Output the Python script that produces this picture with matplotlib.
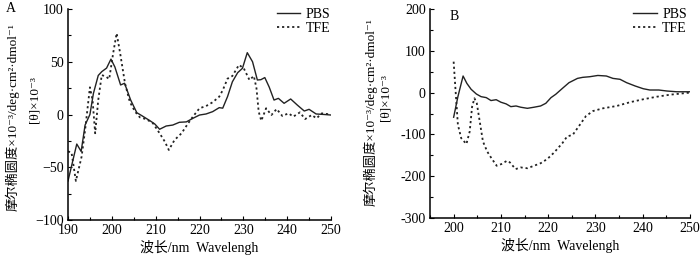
import matplotlib
matplotlib.use("Agg")
import matplotlib.pyplot as plt
from matplotlib.ticker import MultipleLocator, FuncFormatter

plt.rcParams['font.family'] = ['Liberation Serif', 'DejaVu Serif', 'Noto Sans CJK SC']

# ---- Panel A data ----
a_pbs_x = [190, 192.0, 193.0, 193.9, 195.0, 195.8, 196.9, 197.7, 198.8, 199.8, 200.7, 202.0, 202.9,
           204.3, 205.7, 206.8, 208.7, 209.8, 210.9, 212.4, 213.9, 215.4, 217.0, 218.5, 220.0,
           221.5, 223.0, 224.5, 225.3, 226.4, 227.5, 228.7, 229.8, 230.9, 232.1, 233.2, 234.0,
           234.9, 235.9, 237.0, 238.0, 239.3, 240.8, 242.3, 243.9, 245.0, 246.6, 248.5, 250]
a_pbs_y = [-63, -28, -35, -10, 0, 20, 37, 40.6, 44, 52.5, 45, 28, 29.6,
           13.7, 1.7, -1, -5.9, -9, -14, -10.9, -10, -7.4, -7, -3.6, -0.5,
           0.5, 2.7, 6.5, 6, 17, 31, 39.6, 43.8, 58.6, 50, 32.7, 33,
           35, 26, 13.7, 15.3, 10.6, 14.7, 9, 3.3, 4.9, 0.5, 0, -0.5]

a_tfe_x = [190, 190.8, 191.8, 193.1, 193.9, 195.0, 195.6, 196.2, 196.9, 197.7, 198.7, 199.4,
           200.3, 201.1, 201.9, 203.0, 204.1, 205.3, 206.4, 207.9, 209.4, 210.9, 212.1, 213.0,
           214.3, 215.9, 217.4, 218.5, 220.0, 221.5, 223.0, 224.5, 225.3, 226.4, 227.5, 229.0,
           230.1, 231.4, 232.4, 233.0, 233.5, 234.1, 235.2, 236.4, 237.6, 238.9, 240.3, 241.4,
           242.9, 244.1, 245.6, 246.7, 247.9, 250]
a_tfe_y = [-35, -36, -63, -40, -14.7, 25.8, 13.7, -17.8, 13.7, 37.4, 35.8, 33.6,
           58, 77, 58, 29.6, 12, 2.7, -2.7, -4.5, -8.4, -17.8, -25.8, -33.6,
           -24.2, -17.8, -8.4, -2, 5.9, 8, 11.6, 16.9, 23, 34, 36.5, 47,
           43.8, 32.7, 36.5, 24.8, 2.7, -5.9, 5.9, -0.5, 5.2, -1.4, 1.1, -2,
           2, -4.3, -0.5, -3.6, 1.1, 0]

# ---- Panel B data ----
b_pbs_x = [200, 200.9, 202.0, 202.8, 203.7, 204.8, 205.8, 206.9, 207.9, 209.0, 210.0, 211.1,
           212.1, 213.2, 214.2, 215.6, 217.0, 218.4, 219.5, 220.6, 221.6, 223.0, 224.4, 226.2,
           227.3, 228.8, 230.5, 232.3, 233.7, 235.2, 236.6, 238.4, 240.1, 241.5, 243.4, 245.1,
           247.2, 250]
b_pbs_y = [-59, -9.8, 39.7, 22, 7.9, -3.3, -9.7, -12, -19, -17, -23, -27,
           -33.6, -32, -35, -37.6, -35, -32, -25.6, -12, -4, 10, 23.7, 34,
           36.5, 38, 41, 39.7, 34, 31.8, 23.7, 15.8, 9.3, 6.2, 6.2, 3.8,
           2, 2]

b_tfe_x = [200, 200.4, 200.9, 201.6, 202.7, 203.4, 203.9, 204.4, 204.9, 205.7, 206.2, 207.1,
           208.0, 209.1, 210.1, 211.3, 211.9, 213.1, 214.2, 215.6, 217.0, 218.4, 219.8, 221.2,
           223.0, 224.0, 225.2, 226.7, 228.0, 229.5, 231.6, 234.5, 237.3, 240.1, 243.0, 245.8,
           248.6, 250]
b_tfe_y = [74, 6, -77, -109, -123, -93, -34, -13.6, -25.6, -81.6, -117, -141,
           -157, -175, -171, -163, -167, -183, -179, -181, -175, -169, -159, -144,
           -121, -105, -101, -77, -56, -44, -37.6, -32, -23, -16, -9.8, -5,
           -1.7, 0]

labels = ["PBS", "TFE"]
ylab1 = "摩尔椭圆度×10⁻³/deg·cm²·dmol⁻¹"
ylab2 = "[θ]×10⁻³"
xlab = "波长/nm  Wavelengh"

fig = plt.figure(figsize=(7.0, 2.57), dpi=100)
axA = fig.add_axes([68/700, 1-220/257, 263/700, 211/257])
axB = fig.add_axes([430/700, 1-218/257, 260/700, 209/257])

dot = (0, (1.2, 1.6))
for ax in (axA, axB):
    for s in ('top', 'right'):
        ax.spines[s].set_visible(False)
    for s in ('left', 'bottom'):
        ax.spines[s].set_linewidth(1.1)
    ax.tick_params(which='both', direction='in', labelsize=10, pad=3, width=0.8)
    ax.tick_params(which='major', length=3)
    ax.tick_params(which='minor', length=2)
    ax.set_xlabel(xlab, fontsize=10, labelpad=2)

# Panel A
axA.plot(a_pbs_x, a_pbs_y, color='#222222', lw=1.0, label=labels[0])
axA.plot(a_tfe_x, a_tfe_y, color='#222222', lw=1.3, ls=dot, label=labels[1])
axA.set_xlim(190, 250)
axA.set_ylim(-100, 100)
axA.xaxis.set_major_locator(MultipleLocator(10))
axA.xaxis.set_minor_locator(MultipleLocator(5))
axA.yaxis.set_major_locator(MultipleLocator(50))
axA.yaxis.set_minor_locator(MultipleLocator(25))
axA.legend(loc='upper right', bbox_to_anchor=(1.02, 1.03), frameon=False, fontsize=10,
           handlelength=1.7, handletextpad=0.4, labelspacing=0.05, borderaxespad=0)

# Panel B
axB.plot(b_pbs_x, b_pbs_y, color='#222222', lw=1.0, label=labels[0])
axB.plot(b_tfe_x, b_tfe_y, color='#222222', lw=1.3, ls=dot, label=labels[1])
axB.set_xlim(195, 250)
axB.set_ylim(-300, 200)
axB.xaxis.set_major_locator(MultipleLocator(10))
axB.xaxis.set_minor_locator(MultipleLocator(5))
axB.yaxis.set_major_locator(MultipleLocator(100))
axB.yaxis.set_minor_locator(MultipleLocator(50))
axB.yaxis.set_major_formatter(FuncFormatter(lambda v, p: f"{int(round(v))}"))
axB.legend(loc='upper right', bbox_to_anchor=(1.01, 1.03), frameon=False, fontsize=10,
           handlelength=1.7, handletextpad=0.4, labelspacing=0.05, borderaxespad=0)

# y labels (two lines each)
fig.text(12/700, 1-117/257, ylab1, rotation=90, ha='center', va='center', fontsize=9.5)
fig.text(34/700, 1-100/257, ylab2, rotation=90, ha='center', va='center', fontsize=9.5)
fig.text(370/700, 1-112/257, ylab1, rotation=90, ha='center', va='center', fontsize=9.5)
fig.text(385/700, 1-98/257, ylab2, rotation=90, ha='center', va='center', fontsize=9.5)

# panel letters
fig.text(11/700, 1-9/257, "A", ha='center', va='center', fontsize=10)
fig.text(454/700, 1-16/257, "B", ha='center', va='center', fontsize=10)

fig.savefig("out.png", dpi=100)
